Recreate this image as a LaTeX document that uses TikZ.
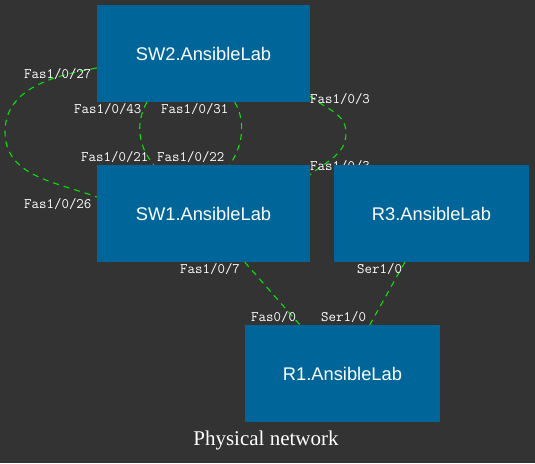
\documentclass[tikz,border=0pt]{standalone}
\usepackage{fontspec}
\setmainfont{Liberation Serif}
\newfontfamily\nodefont{Liberation Sans}
\usetikzlibrary{calc}
\pgfdeclarelayer{back}
\pgfdeclarelayer{bg}
\pgfsetlayers{back,bg,main}
\definecolor{bgc}{HTML}{333333}
\definecolor{boxc}{HTML}{006699}
\definecolor{linkc}{RGB}{10,225,10}
\tikzset{
  devbox/.style={rectangle, fill=boxc, draw=none, minimum height=97pt, inner sep=0pt,
    text=white, font=\nodefont\fontsize{18.3}{20}\selectfont},
  wide/.style={minimum width=213pt},
  narrow/.style={minimum width=195pt},
  link/.style={draw=linkc, line width=1.1pt, dash pattern=on 6pt off 5pt},
  port/.style={anchor=base west, inner sep=0pt, text=white, font=\ttfamily\fontsize{14.5}{15}\selectfont},
}
\begin{document}
\begin{tikzpicture}[x=1pt,y=-1pt]
\begin{pgfonlayer}{back}
\fill[bgc] (0,0) rectangle (535,463);
\end{pgfonlayer}
\useasboundingbox (0,0) rectangle (535,463);
\node[devbox,wide] (sw2) at (203.5,53.5) {SW2.AnsibleLab};
\node[devbox,wide] (sw1) at (203.5,213.5) {SW1.AnsibleLab};
\node[devbox,narrow] (r3) at (431.5,213.5) {R3.AnsibleLab};
\node[devbox,narrow] (r1) at (342.5,373.5) {R1.AnsibleLab};
\begin{pgfonlayer}{bg}
\draw[link] ($(sw2.west)+(0,14.5)$) to[out=190,in=90] (5,132) to[out=-90,in=160] ($(sw1.west)+(0,-16.5)$);
\draw[link] ($(sw2.south west)+(50,0)$) .. controls (136,122) and (137,145) .. ($(sw1.north west)+(57,0)$);
\draw[link] ($(sw2.south west)+(138,0)$) .. controls (246,122) and (243,145) .. ($(sw1.north west)+(133,0)$);
\draw[link] ($(sw2.south east)+(0,-6)$) to[out=-40,in=90] (346,133) to[out=-90,in=40] ($(sw1.north east)+(0,10)$);
\draw[link] ($(sw1.south west)+(148,0)$) -- ($(r1.north west)+(55,0)$);
\draw[link] ($(r3.south west)+(71,0)$) -- ($(r1.north west)+(125,0)$);
\node[port] (l27) at (24,78) {Fas1/0/27};
\node[port] (l26) at (24,208) {Fas1/0/26};
\node[port] (l43) at (74,113) {Fas1/0/43};
\node[port] (l31) at (161,113) {Fas1/0/31};
\node[port] (l21) at (81,161) {Fas1/0/21};
\node[port] (l22) at (157,161) {Fas1/0/22};
\node[port] (l3a) at (310,103) {Fas1/0/3};
\node[port] (l3b) at (310,170) {Fas1/0/3};
\node[port] (l7) at (180,273) {Fas1/0/7};
\node[port] (ls3) at (357,273) {Ser1/0};
\node[port] (lf0) at (251,321) {Fas0/0};
\node[port] (ls1) at (321,321) {Ser1/0};
\end{pgfonlayer}
\node[anchor=base, inner sep=0pt, text=white, font=\fontsize{21}{23}\selectfont] (title) at (266,445) {Physical network};
\end{tikzpicture}
\end{document}
